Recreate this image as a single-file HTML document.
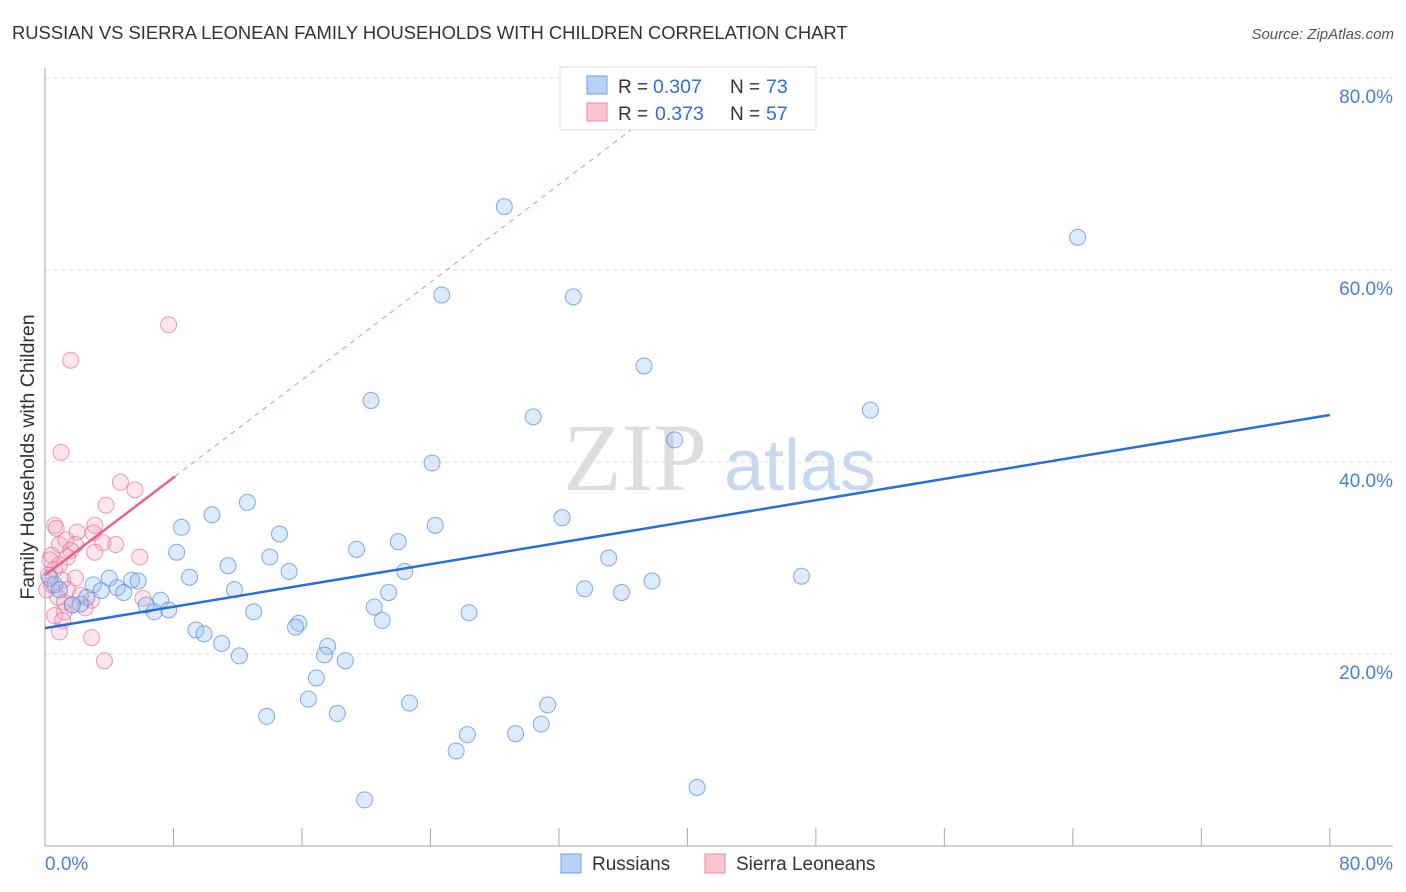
<!DOCTYPE html>
<html><head><meta charset="utf-8"><style>
body{margin:0;background:#fff;font-family:"Liberation Sans",sans-serif;}
svg{display:block}
</style></head><body>
<svg id="chart" width="1406" height="892">
<text x="12" y="39" font-size="18.4" fill="#333">RUSSIAN VS SIERRA LEONEAN FAMILY HOUSEHOLDS WITH CHILDREN CORRELATION CHART</text>
<text x="1394" y="39" font-size="15" fill="#555" font-style="italic" text-anchor="end">Source: ZipAtlas.com</text>
<text x="34" y="457" font-size="19.6" fill="#333" text-anchor="middle" transform="rotate(-90 34 457)">Family Households with Children</text>
<g>
<text x="635" y="490" font-size="96" font-family="Liberation Serif,serif" fill="#ddd" text-anchor="middle">ZIP</text>
<text x="800" y="490" font-size="72" fill="#c8d8f0" text-anchor="middle">atlas</text>
</g>
<g id="grid"></g><g id="axes"></g><g id="pts"></g><g id="lines"></g>
<g>
<rect x="560" y="67" width="256" height="63" fill="#fff" stroke="#ddd"/>
<rect x="587" y="76" width="20" height="18" fill="#b7d1f5" stroke="#6f9fe0"/>
<rect x="587" y="103" width="20" height="18" fill="#f9c3d2" stroke="#eb8aa8"/>
<text x="618" y="93" font-size="19" fill="#333">R =</text>
<text x="653" y="93" font-size="19.5" fill="#2e6fd6">0.307</text>
<text x="730" y="93" font-size="19" fill="#333">N =</text>
<text x="766" y="93" font-size="19.5" fill="#2e6fd6">73</text>
<text x="618" y="120" font-size="19" fill="#333">R =</text>
<text x="655" y="120" font-size="19.5" fill="#2e6fd6">0.373</text>
<text x="730" y="120" font-size="19" fill="#333">N =</text>
<text x="766" y="120" font-size="19.5" fill="#2e6fd6">57</text>
</g>
<g>
<rect x="561" y="854" width="20" height="19" fill="#b7d1f5" stroke="#6f9fe0"/>
<text x="592" y="870" font-size="19" fill="#333">Russians</text>
<rect x="705" y="854" width="20" height="19" fill="#f9c3d2" stroke="#eb8aa8"/>
<text x="736" y="870" font-size="19" fill="#333">Sierra Leoneans</text>
</g>
</svg>
<script>
const yTicks=[20,40,60,80];
const yTickLabels=["20.0%","40.0%","60.0%","80.0%"];
const russX=[28.6,64.3,24.7,32.9,37.3,20.3,51.4,30.4,39.2,24.1,12.6,10.4,8.5,24.3,32.2,14.6,19.4,22.0,8.2,35.1,14.0,11.4,15.2,22.4,9.0,4.0,5.4,5.8,3.0,47.1,37.8,33.6,35.9,3.5,4.5,4.9,11.8,21.4,2.6,7.2,6.3,2.2,1.7,6.8,7.7,13.0,26.4,20.5,21.0,15.8,15.6,9.4,9.9,11.0,17.6,17.4,12.1,18.7,16.9,31.3,22.7,16.4,13.8,18.2,30.9,26.3,29.3,25.6,40.6,19.9,0.6,0.9,0.3];
const russY=[66.6,63.4,57.4,57.2,50.0,46.4,45.4,44.7,42.3,39.9,35.8,34.5,33.2,33.4,34.2,32.5,30.9,31.7,30.6,30.0,30.1,29.2,28.6,28.6,28.0,27.9,27.7,27.6,27.2,28.1,27.6,26.8,26.4,26.6,26.9,26.4,26.7,26.4,25.9,25.6,25.1,25.2,25.1,24.4,24.6,24.4,24.3,24.9,23.5,23.2,22.8,22.5,22.1,21.1,20.8,19.9,19.8,19.3,17.5,14.7,14.9,15.3,13.5,13.8,12.7,11.6,11.7,9.9,6.1,4.8,27.2,26.7,27.9];
const sierX=[7.7,1.6,1.0,4.7,5.6,3.8,0.6,0.7,3.1,2.0,3.0,0.9,1.3,1.9,4.4,3.6,1.6,3.1,5.9,1.4,0.4,0.9,0.6,0.2,1.1,0.4,1.9,1.4,0.8,1.2,1.7,2.9,6.1,1.2,0.6,1.1,0.9,2.9,3.7,0.3,0.1,2.2,2.5];
const sierY=[54.3,50.6,41.0,37.9,37.1,35.5,33.4,33.1,33.4,32.7,32.6,31.4,31.9,31.4,31.4,31.6,30.8,30.6,30.1,30.1,30.3,29.3,28.8,28.2,27.7,27.2,27.9,26.7,25.9,25.4,25.1,25.6,25.8,24.4,24.0,23.5,22.3,21.7,19.3,29.8,26.7,26.1,24.8];
const russTrend=[22.7,44.9];
const sierTrend=[28.2,38.5,8.1];
const NS="http://www.w3.org/2000/svg";
const X=v=>45+v*16.06, Y=v=>846-v*9.6;
function mk(p,t,a){const e=document.createElementNS(NS,t);for(const k in a)e.setAttribute(k,a[k]);p.appendChild(e);return e;}
const grid=document.getElementById('grid'),axes=document.getElementById('axes'),pts=document.getElementById('pts'),lines=document.getElementById('lines');
yTicks.forEach((t,i)=>{
 const l=mk(grid,'line',{x1:45,x2:1393,y1:Y(t),y2:Y(t),stroke:'#ddd','stroke-dasharray':'4,4'});
 
 
 const tx=mk(grid,'text',{x:1393,y:Y(t)+25,'font-size':19,fill:'#4a7fd8','text-anchor':'end'});
 tx.textContent=yTickLabels[i];
 
 
});
mk(axes,'line',{x1:45,x2:45,y1:68,y2:846,stroke:'#aaa'});
mk(axes,'line',{x1:45,x2:1393,y1:846,y2:846,stroke:'#aaa'});
for(let i=1;i<=10;i++){const t=mk(axes,'line',{x1:X(i*8),x2:X(i*8),y1:828,y2:846,stroke:'#aaa'});
 
 }
const xl0=mk(axes,'text',{x:45,y:870,'font-size':19,fill:'#4a7fd8'});xl0.textContent='0.0%';


const xl1=mk(axes,'text',{x:1393,y:870,'font-size':19,fill:'#4a7fd8','text-anchor':'end'});xl1.textContent='80.0%';


sierX.forEach((v,i)=>{const c=mk(pts,'circle',{cx:X(v),cy:Y(sierY[i]),r:8,fill:'rgba(244,160,185,0.28)',stroke:'rgba(232,120,155,0.75)','stroke-width':1});
 
 });
russX.forEach((v,i)=>{const c=mk(pts,'circle',{cx:X(v),cy:Y(russY[i]),r:8,fill:'rgba(150,190,240,0.32)',stroke:'rgba(90,145,220,0.75)','stroke-width':1});
 
 });
const slope=(sierTrend[1]-sierTrend[0])/sierTrend[2];
const ext=mk(lines,'line',{x1:X(sierTrend[2]),y1:Y(sierTrend[1]),x2:X(37),y2:Y(sierTrend[0]+slope*37),stroke:'#eb8aa8','stroke-dasharray':'5,5','stroke-width':1});


const st=mk(lines,'line',{x1:X(0),y1:Y(sierTrend[0]),x2:X(sierTrend[2]),y2:Y(sierTrend[1]),stroke:'#e8628c','stroke-width':2.5});


const rt=mk(lines,'line',{x1:X(0),y1:Y(russTrend[0]),x2:X(80),y2:Y(russTrend[1]),stroke:'#2a6fd6','stroke-width':2.5});


</script>
</body></html>
